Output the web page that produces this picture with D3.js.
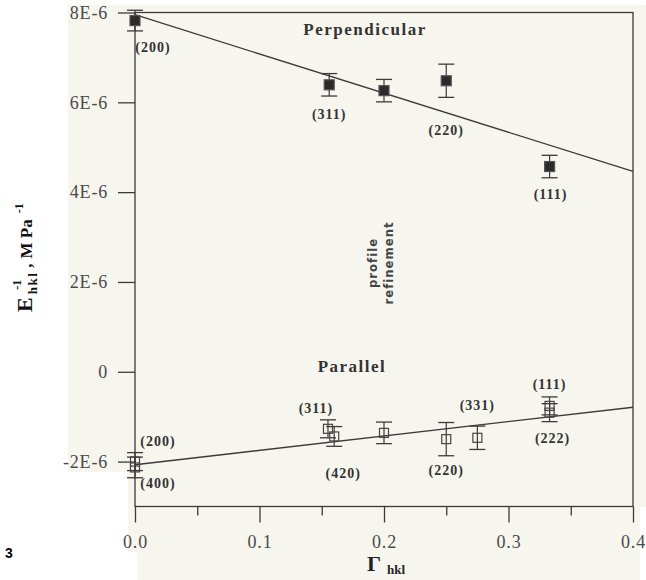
<!DOCTYPE html>
<html>
<head>
<meta charset="utf-8">
<script src="https://cdn.jsdelivr.net/npm/d3@7"></script>
<style>
  body { margin: 0; background: #fff; }
  svg { display: block; }
</style>
</head>
<body>
<div id="chart"></div>
<script>
// values (E in units of 1E-6 MPa^-1)
const perpGamma = [0, 0.156, 0.2, 0.25, 0.333];
const perpE = [7.82, 6.39, 6.26, 6.48, 4.57];
const perpErr = [0.23, 0.25, 0.25, 0.37, 0.25];
const perpNames = ["(200)", "(311)", "", "(220)", "(111)"];

const parGamma = [0, 0, 0.155, 0.16, 0.2, 0.25, 0.275, 0.333, 0.333];
const parE = [-2.0, -2.13, -1.27, -1.44, -1.36, -1.5, -1.47, -0.76, -0.91];
const parErr = [0.2, 0.23, 0.2, 0.22, 0.24, 0.37, 0.26, 0.2, 0.2];
const parNames = ["(200)", "(400)", "(311)", "(420)", "", "(220)", "(331)", "(111)", "(222)"];

// fitted lines, end points at Gamma = 0 and 0.4
const fitGamma = [0, 0.4];
const perpFit = [7.95, 4.46];
const parFit = [-2.07, -0.79];

const xTicks = [0, 0.1, 0.2, 0.3, 0.4];
const xMinor = [0.05, 0.15, 0.25, 0.35];
const yTicks = [8, 6, 4, 2, 0, -2];
const yTickLabels = ["8E-6", "6E-6", "4E-6", "2E-6", "0", "-2E-6"];

// label offsets from the marker (pixels)
const perpLabelOff = [[18, 31], [0, 34], [0, 0], [0, 54], [1, 32]];
const parLabelOff = [[23, -16], [23, 21], [-12, -16], [9, 42], [0, 0], [0, 36], [0, -28], [0, -17], [3, 30]];

const width = 646, height = 580;
const svg = d3.select("#chart").append("svg")
  .attr("width", width)
  .attr("height", height);

// scanned paper background
svg.append("path")
  .attr("d", "M68,5 H646 V507 H640 V580 H137 V552 H128 V472 H68 Z")
  .attr("fill", "#f7f6ee");

const x = d3.scaleLinear().domain([0, 0.4]).range([135, 633]);
const y = d3.scaleLinear().domain([-3, 8]).range([506.5, 12.5]);

const ink = "#3a3a3a";
const serif = "'Liberation Serif', 'DejaVu Serif', serif";

// y axis
const yAxis = svg.append("g")
  .attr("transform", `translate(${x(0)},0)`)
  .call(d3.axisLeft(y).tickValues(yTicks)
    .tickFormat((d, i) => yTickLabels[i]).tickSize(17).tickPadding(10));
yAxis.select(".domain").remove();
yAxis.selectAll("line").attr("stroke", ink).attr("stroke-width", 1.3);
yAxis.selectAll("text")
  .attr("fill", "#4a4a4a")
  .style("font-family", serif)
  .style("font-size", "18px")
  .style("letter-spacing", "0.8px");

// x axis
const xAxis = svg.append("g")
  .attr("transform", `translate(0,${y(-3)})`)
  .call(d3.axisBottom(x).tickValues(xTicks).tickFormat(d3.format(".1f"))
    .tickSize(16).tickPadding(13));
xAxis.select(".domain").remove();
xAxis.selectAll("line").attr("stroke", ink).attr("stroke-width", 1.3);
xAxis.selectAll("text")
  .attr("fill", "#4a4a4a")
  .style("font-family", serif)
  .style("font-size", "18px")
  .style("letter-spacing", "0.8px");

const xMinorAxis = svg.append("g")
  .attr("transform", `translate(0,${y(-3)})`)
  .call(d3.axisBottom(x).tickValues(xMinor).tickFormat("").tickSize(9));
xMinorAxis.select(".domain").remove();
xMinorAxis.selectAll("line").attr("stroke", ink).attr("stroke-width", 1.3);

// frame
svg.append("rect")
  .attr("x", x(0)).attr("y", y(8))
  .attr("width", x(0.4) - x(0)).attr("height", y(-3) - y(8))
  .attr("fill", "none")
  .attr("stroke", ink)
  .attr("stroke-width", 1.3);

// fit lines
const line = d3.line().x(d => x(d[0])).y(d => y(d[1]));
[perpFit, parFit].forEach(fit => {
  svg.append("path")
    .datum(fitGamma.map((g, i) => [g, fit[i]]))
    .attr("d", line)
    .attr("fill", "none")
    .attr("stroke", ink)
    .attr("stroke-width", 1.3);
});

function drawSeries(gam, e, err, names, offs, filled) {
  const data = gam.map((g, i) => ({ g, e: e[i], err: err[i], name: names[i], off: offs[i] }));
  const grp = svg.append("g");
  const pts = grp.selectAll("g").data(data).join("g");
  pts.append("line")
    .attr("x1", d => x(d.g)).attr("x2", d => x(d.g))
    .attr("y1", d => y(d.e + d.err)).attr("y2", d => y(d.e - d.err))
    .attr("stroke", ink).attr("stroke-width", 1.2);
  [1, -1].forEach(s => {
    pts.append("line")
      .attr("x1", d => x(d.g) - 8).attr("x2", d => x(d.g) + 8)
      .attr("y1", d => y(d.e + s * d.err)).attr("y2", d => y(d.e + s * d.err))
      .attr("stroke", ink).attr("stroke-width", 1.3);
  });
  const sz = filled ? 10 : 9;
  pts.append("rect")
    .attr("x", d => x(d.g) - sz / 2).attr("y", d => y(d.e) - sz / 2)
    .attr("width", sz).attr("height", sz)
    .attr("fill", filled ? "#2b2b2b" : "none")
    .attr("stroke", filled ? "#555" : "#444")
    .attr("stroke-width", 1.2);
  pts.filter(d => d.name).append("text")
    .attr("x", d => x(d.g) + d.off[0])
    .attr("y", d => y(d.e) + d.off[1])
    .attr("text-anchor", "middle")
    .attr("fill", "#333")
    .style("font-family", serif)
    .style("font-weight", "bold")
    .style("font-size", "14px")
    .style("letter-spacing", "1px")
    .text(d => d.name);
}
drawSeries(perpGamma, perpE, perpErr, perpNames, perpLabelOff, true);
drawSeries(parGamma, parE, parErr, parNames, parLabelOff, false);

// annotations
svg.append("text")
  .attr("x", 365).attr("y", 35)
  .attr("text-anchor", "middle")
  .attr("fill", "#333")
  .style("font-family", serif).style("font-weight", "bold")
  .style("font-size", "17px").style("letter-spacing", "1.5px")
  .text("Perpendicular");

svg.append("text")
  .attr("x", 352).attr("y", 372)
  .attr("text-anchor", "middle")
  .attr("fill", "#333")
  .style("font-family", serif).style("font-weight", "bold")
  .style("font-size", "17px").style("letter-spacing", "1.5px")
  .text("Parallel");

[["profile", 377], ["refinement", 393]].forEach(([t, px]) => {
  svg.append("text")
    .attr("transform", `translate(${px},263) rotate(-90)`)
    .attr("text-anchor", "middle")
    .attr("fill", "#444")
    .style("font-family", "'Liberation Sans Narrow', 'DejaVu Sans Condensed', sans-serif")
    .style("font-weight", "bold")
    .style("font-size", "13px")
    .style("letter-spacing", "1px")
    .text(t);
});

// y axis title
const yt = svg.append("text")
  .attr("transform", "translate(32,312) rotate(-90)")
  .attr("fill", "#111")
  .style("font-family", serif)
  .style("font-weight", "bold")
  .style("font-size", "22px");
yt.append("tspan").text("E");
yt.append("tspan").attr("dx", 3).attr("dy", 5)
  .style("font-size", "13px").style("letter-spacing", "1.5px").text("hkl");
yt.append("tspan").attr("dx", -18).attr("dy", -16).style("font-size", "12px").text("-1");
yt.append("tspan").attr("dx", 12).attr("dy", 11).style("font-size", "17px").text(",");
yt.append("tspan").attr("dx", 5).style("font-size", "17px").text("M\u00a0Pa");
yt.append("tspan").attr("dx", 6).attr("dy", -9).style("font-size", "12px").text("-1");

// x axis title
const xt = svg.append("text")
  .attr("x", 386).attr("y", 571)
  .attr("text-anchor", "middle")
  .attr("fill", "#222")
  .style("font-family", serif)
  .style("font-weight", "bold")
  .style("font-size", "22px");
xt.append("tspan").text("Γ");
xt.append("tspan").attr("dx", 6).attr("dy", 3).style("font-size", "13px").text("hkl");

// stray figure number at the page edge
svg.append("text")
  .attr("x", 5).attr("y", 558)
  .attr("fill", "#000")
  .style("font-family", "'Liberation Sans', Arial, sans-serif")
  .style("font-weight", "bold")
  .style("font-size", "14px")
  .text("3");
</script>
</body>
</html>
